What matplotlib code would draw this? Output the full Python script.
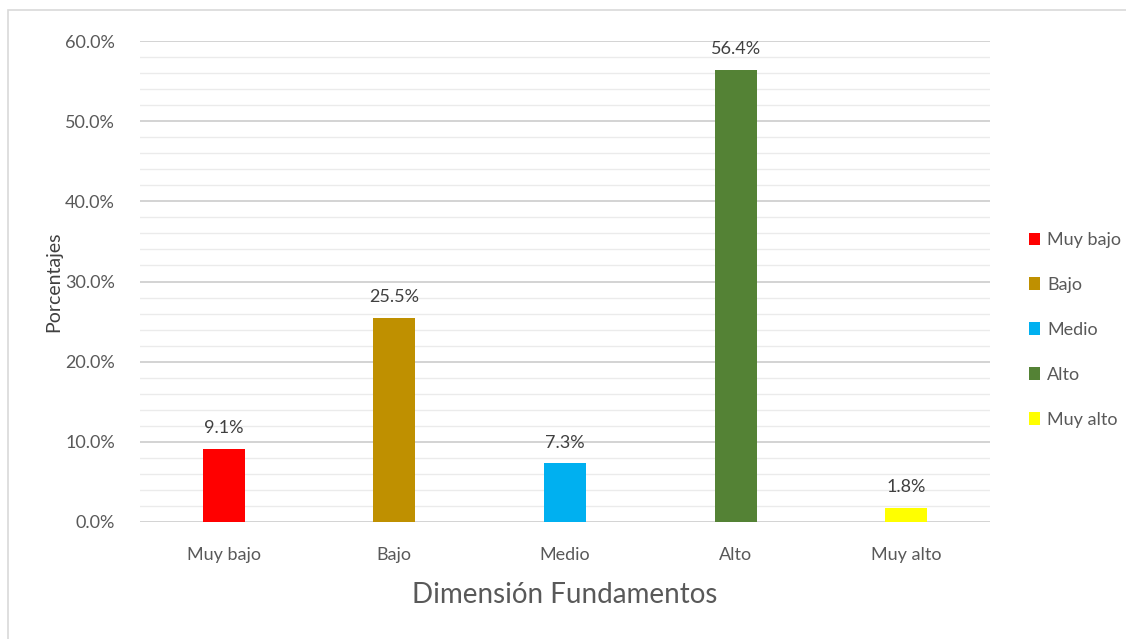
import matplotlib
matplotlib.use("Agg")
import matplotlib.pyplot as plt
from matplotlib.patches import Rectangle, Patch
from matplotlib.ticker import MultipleLocator, PercentFormatter

categories = ["Muy bajo", "Bajo", "Medio", "Alto", "Muy alto"]
values = [9.1, 25.5, 7.3, 56.4, 1.8]
colors = ["#FF0000", "#BF9000", "#00B0F0", "#548235", "#FFFF00"]

plt.rcParams["font.family"] = ["Lato", "DejaVu Sans"]
text_color = "#595959"

fig = plt.figure(figsize=(11.26, 6.39), dpi=100)
fig.patches.append(Rectangle((8 / 1126, -0.05), 1.2, 1 - 10 / 639 + 0.05,
                             transform=fig.transFigure, fill=False,
                             edgecolor="#d9d9d9", lw=1.2))
ax = fig.add_axes([140 / 1126, 1 - 522 / 639, 850 / 1126, 481 / 639])

x = range(len(categories))
bars = ax.bar(x, values, width=0.245, color=colors, zorder=3)
for b, v in zip(bars, values):
    ax.text(b.get_x() + b.get_width() / 2, v + 1.6, f"{v:.1f}%",
            ha="center", va="bottom", fontsize=13, color="#404040")

ax.set_xlim(-0.49, 4.49)
ax.set_ylim(0, 60)
ax.yaxis.set_major_locator(MultipleLocator(10))
ax.yaxis.set_minor_locator(MultipleLocator(2))
ax.yaxis.set_major_formatter(PercentFormatter(decimals=1))
ax.grid(axis="y", which="major", color="#d0d0d0", lw=1.3, zorder=0)
ax.grid(axis="y", which="minor", color="#ebebeb", lw=1.0, zorder=0)
ax.set_axisbelow(True)
for s in ax.spines.values():
    s.set_visible(False)
ax.tick_params(axis="both", which="both", length=0, labelsize=13,
               colors=text_color)
ax.tick_params(axis="y", pad=18)
ax.set_xticks(list(x))
ax.set_xticklabels(categories)
ax.tick_params(axis="x", pad=18)

ax.set_xlabel("Dimensión Fundamentos", fontsize=20, color=text_color, labelpad=14)
ax.set_ylabel("Porcentajes", fontsize=14, color="#404040", labelpad=2)

handles = [Patch(facecolor=c, label=l) for c, l in zip(colors, categories)]
fig.legend(handles=handles, loc="center left", bbox_to_anchor=(1013 / 1126, 1 - 330 / 639),
           frameon=False, fontsize=13, labelcolor=text_color, handlelength=0.6,
           handleheight=0.7, handletextpad=0.4, labelspacing=1.6)

fig.savefig("out.png", dpi=100)
